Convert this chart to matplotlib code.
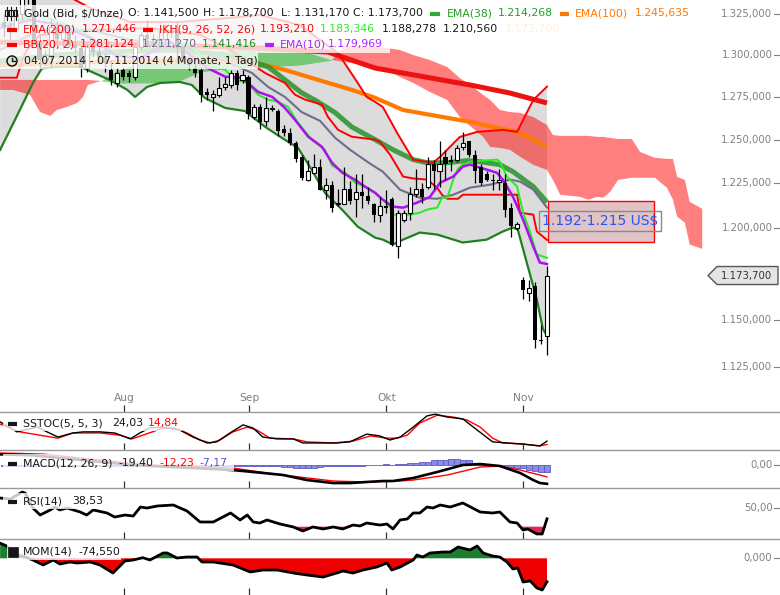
import numpy as np
import matplotlib
matplotlib.use("Agg")
import matplotlib.pyplot as plt
from matplotlib.patches import Rectangle, Polygon, Circle
from matplotlib.ticker import NullLocator

plt.rcParams['font.family'] = ['DejaVu Sans']

W, H = 780, 595

# ---------------- price data, one candle per trading day (index 0..91) ----------------
opens = [1320, 1317, 1316, 1325, 1338, 1337, 1307, 1297, 1300, 1317,
         1310, 1314, 1306, 1304, 1292, 1305, 1302, 1299, 1291, 1283,
         1291, 1289, 1287, 1305, 1312, 1310, 1309, 1310, 1314, 1314,
         1305, 1297, 1292, 1291, 1278, 1275, 1276, 1281, 1282, 1289,
         1285, 1287, 1263, 1269, 1261, 1268, 1267, 1256, 1254, 1248,
         1240, 1227, 1231, 1234, 1221, 1224, 1213, 1213, 1222, 1216,
         1220, 1218, 1213, 1207, 1212, 1216, 1190, 1204.5, 1208, 1219,
         1222, 1223, 1236, 1232, 1240, 1238.5, 1238.5, 1246, 1249, 1241,
         1234, 1230, 1227, 1225.5, 1225, 1211, 1200, 1171, 1164, 1168,
         1139, 1141.5]
highs = [1325, 1320, 1327, 1346, 1341, 1339, 1313, 1303, 1322, 1320,
         1317, 1315, 1312, 1306, 1307, 1308, 1305, 1301, 1297, 1292,
         1293, 1291, 1308, 1314, 1321, 1313, 1315, 1318, 1318, 1320,
         1305, 1299, 1295, 1293, 1280, 1279, 1287, 1287, 1291, 1291,
         1291, 1288, 1271, 1271, 1275, 1270, 1268, 1258.5, 1257, 1249,
         1241, 1238, 1242, 1239, 1228, 1226, 1222, 1234, 1226, 1230,
         1230, 1223, 1214, 1217, 1221, 1217, 1210, 1210, 1223, 1233,
         1225, 1240, 1238.5, 1249, 1244, 1241, 1247, 1254.6, 1249.5, 1244,
         1236, 1232, 1230, 1233, 1230, 1214, 1203, 1173, 1171, 1170,
         1147, 1178.7]
lows = [1311, 1310, 1314, 1321, 1331, 1306, 1292, 1294, 1293, 1306,
        1304, 1304, 1302, 1287, 1290, 1299, 1296, 1290, 1282, 1281,
        1285, 1284, 1285, 1303, 1305, 1305, 1305, 1308, 1311, 1295,
        1296, 1291, 1287, 1272, 1273, 1267, 1275, 1279, 1280, 1279,
        1283, 1262, 1262, 1256, 1258, 1267, 1252, 1252, 1247, 1237,
        1227, 1226, 1231, 1221, 1216, 1209, 1212, 1213, 1213, 1206,
        1211, 1213, 1203, 1203, 1208, 1190, 1183, 1203, 1204.5, 1217,
        1214, 1222, 1222, 1223, 1227, 1232, 1237, 1244, 1240, 1225,
        1224, 1226, 1221, 1221, 1206, 1195, 1199, 1161, 1160, 1135,
        1137, 1131.17]
closes = [1317, 1316, 1325, 1338, 1337, 1307, 1297, 1300, 1317, 1310,
          1314, 1306, 1304, 1292, 1305, 1302, 1299, 1295, 1285, 1289,
          1287, 1287, 1305, 1312, 1310, 1309, 1310, 1314, 1314.5, 1305,
          1298, 1294, 1289, 1276, 1276, 1277, 1280, 1282.5, 1289, 1282,
          1288, 1265, 1269, 1260, 1268.5, 1268.5, 1255, 1254, 1248, 1239,
          1228, 1232, 1234, 1221, 1224, 1211, 1214, 1222, 1215, 1220,
          1218, 1215, 1207, 1212, 1211, 1190.5, 1208, 1208, 1219, 1222,
          1217, 1236, 1232, 1236, 1236, 1237, 1245, 1248, 1241, 1232,
          1225, 1227, 1226, 1227, 1210, 1201, 1202, 1166, 1167, 1139,
          1138.5, 1173.7]

# ---------------- overlays on the price panel ----------------
bb_up_x = [-0.6, 4.4, 9.4, 14.5, 21.2, 29.5, 37.9, 42.9, 49.6, 56.0, 59.3, 60.8, 62.2,
           63.5, 65.9, 68.6, 71.9, 73.1, 76.4, 79.3, 83.6, 86.0, 87.0, 88.7, 91]
bb_up = [1361.7, 1352.3, 1338.6, 1328.7, 1320.1, 1320.1, 1322.6, 1324.4, 1318.2, 1301.2,
         1283.3, 1275.0, 1272.1, 1269.1, 1253.9, 1238.4, 1236.7, 1240.1, 1251.6, 1254.5,
         1255.7, 1254.5, 1261.5, 1273.2, 1281.124]
bb_mid_x = [-0.6, 6.1, 14.5, 21.2, 29.5, 35.9, 41.6, 44.3, 47.1, 49.9, 53.0, 55.5, 58.0,
            61.4, 63.5, 66.4, 69.7, 72.6, 75.3, 78.1, 81.5, 84.8, 86.5, 88.7, 91]
bb_mid = [1303.1, 1315.2, 1315.2, 1309.1, 1306.1, 1298.2, 1289.2, 1280.9, 1275.0, 1266.1,
          1260.9, 1251.1, 1244.2, 1236.1, 1231.6, 1221.3, 1216.8, 1216.2, 1218.5, 1222.5,
          1224.2, 1227.1, 1225.9, 1221.4, 1211.27]
bb_low_x = [-0.6, 2.7, 4.9, 6.4, 9.4, 12.8, 17.8, 20.7, 22.0, 24.0, 26.2, 29.5, 31.5, 33.7,
            37.1, 40.4, 43.8, 47.1, 49.3, 51.6, 53.8, 56.7, 59.3, 62.2, 63.5, 65.2, 66.9,
            69.7, 72.6, 76.9, 80.9, 83.6, 85.3, 86.1, 87.6, 89.3, 90.3, 91]
bb_low = [1244.1, 1267.3, 1283.3, 1292.0, 1293.0, 1293.0, 1285.0, 1279.2, 1275.0, 1280.9,
          1283.3, 1283.9, 1282.1, 1274.4, 1268.5, 1266.7, 1257.4, 1249.9, 1245.2, 1232.6,
          1219.6, 1210.0, 1200.6, 1194.5, 1193.4, 1190.7, 1193.4, 1197.3, 1196.2, 1191.8,
          1193.4, 1197.9, 1200.1, 1199.0, 1180.9, 1160.9, 1145.1, 1141.416]

ema10_x = [-0.6, 4.4, 9.4, 14.5, 18.6, 22.8, 27.9, 31.2, 34.1, 37.1, 39.9, 40.9, 42.6, 45.0,
           47.1, 48.8, 51.0, 53.3, 55.0, 56.7, 58.8, 60.5, 62.2, 63.5, 65.2, 66.9, 69.2,
           71.4, 73.1, 75.3, 76.9, 78.1, 79.8, 82.6, 83.6, 85.3, 87.0, 88.7, 89.8, 91]
ema10 = [1316.4, 1321.3, 1318.3, 1310.3, 1300.1, 1298.0, 1308.0, 1300.1, 1292.3, 1287.0,
         1286.4, 1283.3, 1278.0, 1275.0, 1268.5, 1261.5, 1251.7, 1245.9, 1236.7, 1231.0,
         1227.1, 1223.1, 1219.6, 1215.7, 1211.8, 1211.2, 1214.0, 1217.3, 1225.3, 1228.8,
         1234.5, 1235.6, 1233.9, 1231.0, 1227.1, 1217.4, 1204.5, 1189.6, 1180.8, 1179.969]

tenkan_x = [-0.6, 6.1, 12.8, 19.5, 26.2, 31.2, 34.9, 37.1, 38.7, 40.9, 42.6, 44.3, 45.9,
            47.6, 49.3, 51.6, 53.8, 55.0, 57.2, 58.8, 60.5, 62.2, 63.5, 64.7, 65.2, 68.1,
            69.7, 70.9, 72.6, 73.4, 74.3, 75.3, 76.1, 76.9, 78.1, 82.6, 83.1, 84.3, 86.0,
            87.0, 88.2, 89.3, 91]
tenkan = [1318.3, 1324.4, 1315.2, 1300.1, 1306.2, 1306.2, 1292.9, 1291.1, 1285.2, 1283.3,
          1276.3, 1273.4, 1272.2, 1269.2, 1259.9, 1250.0, 1244.2, 1235.0, 1231.0, 1225.4,
          1223.1, 1219.6, 1215.7, 1211.8, 1207.3, 1207.3, 1208.4, 1210.1, 1211.2, 1216.8,
          1216.8, 1227.1, 1233.3, 1235.6, 1237.3, 1238.5, 1237.3, 1228.7, 1223.1, 1208.4,
          1197.3, 1185.2, 1183.346]

kijun_x = [-0.6, 2.2, 3.1, 3.9, 6.1, 16.1, 24.5, 32.9, 37.9, 43.8, 47.1, 48.8, 50.5, 53.3,
           54.3, 56.0, 58.3, 62.2, 63.0, 64.7, 66.9, 68.6, 70.9, 72.6, 73.4, 74.3, 76.1,
           76.9, 86.0, 86.5, 88.7, 89.3, 91]
kijun = [1286.4, 1286.4, 1297.0, 1303.1, 1312.2, 1315.2, 1316.4, 1312.2, 1303.1, 1289.2,
         1283.3, 1276.3, 1273.4, 1270.5, 1263.3, 1255.7, 1251.7, 1250.0, 1248.8, 1241.4,
         1228.8, 1227.7, 1227.1, 1222.5, 1218.5, 1216.2, 1216.2, 1218.5, 1218.5, 1208.4,
         1207.3, 1197.9, 1193.21]

ema38_x = [-0.6, 9.4, 19.5, 27.9, 34.6, 39.6, 44.3, 47.1, 49.9, 52.6, 55.5, 58.3, 62.2,
           65.2, 68.6, 70.9, 74.3, 77.6, 79.8, 83.1, 85.3, 88.7, 91]
ema38 = [1296.4, 1300.1, 1302.0, 1303.1, 1301.3, 1298.2, 1292.9, 1285.2, 1277.5, 1272.2,
         1265.8, 1257.4, 1250.0, 1244.2, 1238.5, 1236.7, 1236.7, 1237.9, 1237.3, 1235.6,
         1231.6, 1223.1, 1214.268]

ema100_x = [-0.6, 16.1, 32.9, 41.6, 47.1, 52.6, 58.3, 62.2, 66.9, 74.3, 78.1, 81.9, 86.0,
            88.7, 91]
ema100 = [1294.0, 1295.8, 1297.0, 1295.8, 1291.1, 1285.2, 1279.2, 1274.5, 1267.3, 1262.7,
          1260.4, 1257.4, 1254.5, 1250.0, 1245.635]

ema200_x = [-0.6, 24.5, 42.9, 54.3, 62.2, 69.7, 78.1, 84.8, 91]
ema200 = [1307.8, 1306.2, 1304.3, 1301.8, 1292.2, 1287.4, 1282.1, 1277.3, 1271.446]

# Ichimoku cloud (senkou spans, shifted 26 days ahead)
cloud_x = [-0.6, 1.6, 4.4, 6.1, 7.8, 8.9, 10.6, 12.3, 13.3, 14.1,
           16.3, 19.1, 24.5, 29.0, 32.9, 37.9, 43.3, 49.6, 55.0, 57.2,
           63.0, 66.4, 68.6, 71.4, 74.3, 76.4, 78.1, 80.3, 81.5, 83.1,
           84.8, 86.5, 88.7, 91.0, 92.0, 93.2, 96.5, 97.9, 99.4, 100.4,
           101.6, 102.9, 105.2, 106.6, 109.1, 111.1, 112.1, 112.8, 114.1, 114.9,
           117.0]
senkou_a = [1279.1, 1279.1, 1276.2, 1266.1, 1263.8, 1267.3, 1269.1, 1271.4, 1275.0, 1282.1,
            1284.5, 1291.0, 1297.0, 1298.8, 1301.8, 1303.0, 1304.3, 1303.0, 1297.0, 1295.8,
            1292.8, 1286.8, 1283.3, 1277.9, 1273.2, 1263.2, 1258.0, 1251.6, 1245.8, 1245.2,
            1244.1, 1240.1, 1235.5, 1232.6, 1226.9, 1218.5, 1217.3, 1215.7, 1217.3, 1216.8,
            1220.2, 1226.9, 1228.1, 1228.1, 1228.1, 1222.4, 1215.7, 1206.2, 1202.8, 1190.7,
            1188.278]
senkou_b = [1285.1, 1285.1, 1285.1, 1285.1, 1285.1, 1285.1, 1285.1, 1285.1, 1285.1, 1285.1,
            1284.5, 1283.3, 1283.3, 1283.9, 1289.8, 1292.2, 1292.8, 1294.0, 1297.0, 1305.5,
            1304.9, 1303.0, 1300.0, 1297.0, 1292.8, 1286.2, 1282.1, 1276.2, 1273.2, 1267.3,
            1266.1, 1265.6, 1263.2, 1258.5, 1252.7, 1252.2, 1252.2, 1252.2, 1251.6, 1251.6,
            1251.0, 1250.4, 1250.4, 1242.9, 1239.5, 1238.9, 1238.9, 1228.6, 1226.9, 1214.5,
            1210.56]

# ---------------- lower indicator panels ----------------
sto_k_x = [-0.6, 2.2, 5.6, 6.6, 9.1, 11.6, 13.3, 16.1, 18.6, 21.2, 22.8, 24.5, 26.5, 29.5,
           31.7, 34.1, 35.7, 37.9, 40.1, 41.8, 43.4, 45.8, 48.5, 50.1, 53.0, 55.8, 58.0,
           60.8, 63.0, 64.7, 66.4, 68.6, 70.9, 72.3, 74.3, 76.9, 79.3, 81.9, 84.3, 87.0,
           89.8, 91]
sto_k = [76, 49, 62, 54, 35, 46, 49, 49, 46, 30, 46, 60, 62, 54, 35, 19, 22, 46, 68, 59,
         35, 30, 30, 19, 19, 19, 22, 43, 38, 27, 35, 62, 92, 97, 89, 84, 54, 22, 19, 16,
         11, 24.03]
sto_d_x = [-0.6, 2.7, 9.1, 11.6, 16.1, 19.5, 21.5, 23.3, 26.5, 28.5, 30.7, 32.9, 34.6, 36.2,
           38.4, 40.8, 42.4, 44.6, 48.5, 50.8, 55.2, 58.5, 61.4, 64.2, 65.9, 67.6, 69.7,
           72.6, 75.3, 77.6, 79.8, 81.9, 83.6, 87.0, 89.8, 91]
sto_d = [70, 49, 32, 46, 46, 40, 30, 40, 58, 60, 46, 27, 19, 27, 49, 62, 54, 32, 30, 22,
         19, 24, 38, 32, 32, 40, 73, 94, 89, 81, 62, 32, 19, 16, 11, 14.84]

macd_x = [-0.6, 4.9, 10.0, 15.0, 21.7, 28.0, 35.1, 38.4, 41.8, 46.8, 50.8, 55.2, 58.0, 60.8,
          63.5, 65.2, 68.6, 72.6, 76.9, 79.8, 83.1, 86.5, 88.7, 89.8, 91]
macd = [11.0, 10.0, 7.0, 4.0, 0.0, -2.0, -4.1, -5.2, -7.2, -10.3, -15.5, -18.6, -18.6, -17.5,
        -16.5, -16.5, -13.4, -7.2, 0.0, 1.0, -1.0, -8.2, -15.5, -18.5, -19.40]
signal_x = [-0.6, 6.6, 16.1, 24.5, 38.4, 44.1, 49.6, 55.2, 60.8, 66.4, 68.6, 74.3, 79.8,
            83.1, 86.5, 89.8, 91]
signal = [12.4, 11.3, 5.2, 0.0, -3.1, -8.2, -12.4, -16.5, -17.5, -16.5, -15.5, -10.3, -2.1,
          -1.0, -5.2, -10.3, -12.23]
macd_hist = [-1.2, -1.2, -1.0, -1.0, -1.0, -0.8, -0.8, -0.8, -0.6, -0.6,
             -0.6, -0.6, -0.8, -1.0, -1.2, -1.2, -1.2, -1.2, -1.2, -1.0,
             -1.0, -1.0, -1.0, -1.0, -1.0, -1.2, -1.2, -1.2, -1.2, -1.2,
             -1.2, -1.2, -1.0, -1.0, -1.0, -1.0, -1.0, -1.0, -1.0, -1.2,
             -1.5, -1.5, -1.5, -1.5, -1.5, -1.5, -1.5, -1.8, -2.0, -3.0,
             -3.2, -3.2, -3.0, -2.0, -1.5, -1.2, -1.2, -1.0, -1.0, -0.8,
             -0.6, -0.4, -0.2, 0.4, 1.0, 0.5, 1.0, 1.5, 2.3, 2.5,
             3.3, 3.5, 5.0, 5.0, 5.3, 6.0, 6.2, 5.5, 5.0, 2.5,
             2.3, 1.5, 0.2, -0.5, -2.3, -2.5, -3.0, -3.5, -5.5, -6.0,
             -7.0, -7.17]

rsi_x = [-0.6, 1.1, 3.1, 3.6, 4.9, 6.1, 7.8, 8.6, 9.4, 10.6, 12.8, 13.9, 15.0, 17.3, 18.6,
         20.3, 21.7, 22.9, 24.0, 25.7, 28.4, 30.7, 32.9, 35.1, 38.0, 39.6, 40.8, 41.8, 42.9,
         44.1, 46.3, 48.5, 50.1, 51.8, 53.5, 55.2, 56.8, 58.5, 59.7, 60.8, 63.0, 64.2, 65.2,
         66.4, 67.6, 68.6, 69.7, 70.9, 71.9, 73.1, 74.8, 76.9, 79.8, 81.9, 83.1, 84.8, 86.0,
         87.0, 87.8, 89.3, 90.2, 91]
rsi = [61.2, 60.1, 67.7, 66.6, 50.3, 42.7, 48.2, 51.4, 48.2, 50.3, 46.0, 42.7, 48.2, 44.9,
       40.5, 42.7, 41.6, 51.4, 50.3, 52.5, 53.6, 47.1, 35.1, 35.1, 44.9, 37.3, 42.7, 35.1,
       34.0, 37.3, 32.9, 29.7, 25.3, 29.7, 27.5, 29.7, 27.5, 31.8, 30.8, 34.0, 31.8, 32.9,
       27.5, 37.3, 38.4, 44.9, 44.9, 51.4, 50.3, 53.6, 51.4, 55.8, 46.0, 44.9, 46.0, 35.1,
       34.0, 26.4, 27.5, 22.1, 22.1, 38.53]

mom_x = [-0.6, 0.4, 1.4, 2.5, 3.5, 4.9, 6.6, 8.3, 9.4, 11.1, 12.3, 14.5, 16.1, 18.3, 20.3,
         21.7, 23.3, 24.5, 26.7, 27.4, 29.0, 30.7, 32.4, 33.2, 35.1, 38.4, 41.3, 43.4, 45.8,
         48.5, 50.8, 53.5, 55.8, 56.8, 58.5, 60.2, 62.5, 64.2, 65.0, 66.4, 68.6, 69.2, 70.2,
         71.4, 73.6, 74.8, 76.1, 78.1, 79.3, 80.3, 81.9, 83.1, 84.3, 85.3, 86.1, 87.0, 88.2,
         89.3, 90.2, 91]
mom = [48, 40, 25, 10, 5, -5.4, -21.3, -5.4, -18.2, -11.8, -15.0, -11.8, -21.3, -46.8, -8.6,
       -5.4, 2.0, -5.4, 16.9, 16.9, 1.0, 4.1, 4.1, -11.8, -11.8, -21.3, -43.6, -37.3, -37.3,
       -46.8, -53.2, -59.6, -46.8, -40.4, -46.8, -37.3, -27.7, -15.0, -37.3, -27.7, -5.4,
       10.5, 4.1, 16.9, 20.1, 20.1, 36.0, 26.4, 39.2, 16.9, 7.3, 4.1, -11.8, -34.1, -30.9,
       -75.5, -72.3, -94.6, -101.0, -74.55]

month_pos = [20.15, 41.14, 64.1, 87.0]
month_labels = ['Aug', 'Sep', 'Okt', 'Nov']
price_ticks = [1325, 1300, 1275, 1250, 1225, 1200, 1150, 1125]

XMIN, XMAX = -0.62, 130.03
GREY = '#808080'


def de_num(v, nd):
    s = f"{v:,.{nd}f}"
    return s.replace(',', '#').replace('.', ',').replace('#', '.')


fig = plt.figure(figsize=(W / 100, H / 100), dpi=100)


def panel(top, bottom, sep=True):
    ax = fig.add_axes([0, (H - bottom) / H, 1, (bottom - top) / H])
    for s in ax.spines.values():
        s.set_visible(False)
    if sep:
        ax.spines['top'].set_visible(True)
        ax.spines['top'].set_color('#999999')
        ax.spines['top'].set_linewidth(1.0)
    ax.patch.set_alpha(0)
    return ax


def finish(ax, ylim):
    ax.set_xlim(XMIN, XMAX)
    ax.set_ylim(*ylim)
    ax.set_xticks(month_pos)
    ax.tick_params(axis='x', direction='in', length=5, width=0.9, color='#333333',
                   labelbottom=False)
    ax.yaxis.set_major_locator(NullLocator())
    ax.yaxis.set_minor_locator(NullLocator())
    ax.set_autoscale_on(False)


def right_label(ax, v, txt):
    tr = ax.get_yaxis_transform()
    ax.text(772.5 / W, v, txt, transform=tr, ha='right', va='center', fontsize=7.3, color=GREY)
    ax.plot([773.5 / W, 778.5 / W], [v, v], transform=tr, color=GREY, lw=0.8)


# ================= main price panel =================
ax = panel(0, 411.7, sep=False)
ax.set_yscale('log')
finish(ax, (1101.9, 1333.6))

# Bollinger band area
ax.fill(bb_up_x + bb_low_x[::-1], bb_up + bb_low[::-1], color='#dcdcdc', lw=0, zorder=1)

# cloud
ca = np.array(senkou_a)
cb = np.array(senkou_b)
ax.fill_between(cloud_x, ca, cb, where=ca >= cb, interpolate=True, color='#12b312',
                alpha=0.5, lw=0, zorder=2)
ax.fill_between(cloud_x, ca, cb, where=ca < cb, interpolate=True, color='#ff0000',
                alpha=0.5, lw=0, zorder=2)

ax.plot(ema200_x, ema200, color='#ee1111', lw=3.6, zorder=3, solid_capstyle='butt')
ax.plot(ema100_x, ema100, color='#ff7a00', lw=3.0, zorder=3, solid_capstyle='butt')
ax.plot(ema38_x, ema38, color='#2e962e', lw=3.6, alpha=0.88, zorder=3, solid_capstyle='butt')
ax.plot(bb_up_x, bb_up, color='#ff0000', lw=1.4, zorder=3)
ax.plot(kijun_x, kijun, color='#ff0000', lw=1.4, zorder=3)
ax.plot(bb_mid_x, bb_mid, color='#6e6e8c', lw=1.5, zorder=3)
ax.plot(bb_low_x, bb_low, color='#1e801e', lw=1.6, zorder=3)
ax.plot(tenkan_x, tenkan, color='#22ee22', lw=1.4, zorder=3)
ax.plot(ema10_x, ema10, color='#aa11ee', lw=1.8, zorder=3)

# candles
idx = np.arange(len(closes))
o = np.array(opens, float)
c = np.array(closes, float)
hi = np.array(highs, float)
lo = np.array(lows, float)
up = c >= o
ax.vlines(idx, lo, hi, color='black', lw=0.9, zorder=4)
b_lo = np.minimum(o, c)
b_h = np.maximum(np.maximum(o, c) - b_lo, 0.6)
ax.bar(idx[up], b_h[up], bottom=b_lo[up], width=0.68, facecolor='white',
       edgecolor='black', lw=0.8, zorder=5)
ax.bar(idx[~up], b_h[~up], bottom=b_lo[~up], width=0.68, color='black', lw=0, zorder=5)

# target zone box
ax.add_patch(Rectangle((91.1, 1192), 108.9 - 91.1, 1215 - 1192, facecolor='#dfc3c6',
                       edgecolor='#ff0000', lw=1.0, zorder=6))
ax.text(99.9, 1203.6, '1.192-1.215 US$', ha='center', va='center', fontsize=10,
        color='#2a55ee', zorder=7,
        bbox=dict(boxstyle='square,pad=0.2', fc='none', ec='#888888', lw=1.0))

for p in price_ticks:
    right_label(ax, p, de_num(p, 3))
for pos, lbl in zip(month_pos, month_labels):
    ax.text(pos, 13.7 / 411.7, lbl, transform=ax.get_xaxis_transform(), ha='center',
            va='center', fontsize=7.7, color=GREY)
ax_main = ax

# ================= SSTOC =================
ax = panel(411.7, 450)
ax.plot(sto_d_x, sto_d, color='#ff0000', lw=1.0)
ax.plot(sto_k_x, sto_k, color='black', lw=1.0)
finish(ax, (0, 103.5))

# ================= MACD =================
ax = panel(450, 488)
ax.bar(idx, macd_hist, width=1.0, facecolor='#8c8ce6', edgecolor='#5a5ac8', lw=0.6, zorder=1)
ax.plot(signal_x, signal, color='#ff0000', lw=1.0, zorder=2)
ax.plot(macd_x, macd, color='black', lw=1.9, zorder=3)
right_label(ax, 0, '0,00')
finish(ax, (-23.7, 15.5))

# ================= RSI =================
ax = panel(488, 539)
r = np.array(rsi)
ax.fill_between(rsi_x, r, 30, where=r < 30, interpolate=True, color='#dc2a55', lw=0, zorder=1)
ax.plot(rsi_x, rsi, color='black', lw=2.0, zorder=2)
right_label(ax, 50, '50,00')
finish(ax, (16.6, 72.1))

# ================= MOM =================
ax = panel(539, 595)
m = np.array(mom)
ax.fill_between(mom_x, m, 0, where=m >= 0, interpolate=True, color='#1a7f2e', lw=0, zorder=1)
ax.fill_between(mom_x, m, 0, where=m < 0, interpolate=True, color='#ee0000', lw=0, zorder=1)
ax.plot(mom_x, mom, color='black', lw=2.0, zorder=2)
right_label(ax, 0, '0,000')
finish(ax, (-116.9, 61.5))

# ================= legends / overlay (pixel coordinates) =================
ov = fig.add_axes([0, 0, 1, 1])
ov.set_xlim(0, W)
ov.set_ylim(H, 0)
ov.axis('off')

FS = 7.8
BLACK = '#161616'


def box(x0, y0, x1, y1):
    ov.add_patch(Rectangle((x0, y0), x1 - x0, y1 - y0, facecolor='white', alpha=0.78, lw=0))


def txt(x, y, s, col=BLACK):
    ov.text(x, y, s, fontsize=FS, color=col, ha='left', va='center')


def dash(x0, x1, y, col, lw=3.0):
    ov.plot([x0, x1], [y, y], color=col, lw=lw, solid_capstyle='butt')


box(0, 5, 692, 21)
box(0, 21, 562, 37)
box(0, 37, 390, 53)
box(0, 53, 258, 69)

# row 1
for xs in (6.5, 11, 15.5):
    ov.plot([xs, xs], [7, 20], color=BLACK, lw=0.8)
    ov.add_patch(Rectangle((xs - 1.6, 10), 3.2, 6, facecolor='white', edgecolor=BLACK, lw=0.8))
txt(24, 13, 'Gold (Bid, $/Unze)')
txt(128, 13, 'O: 1.141,500')
txt(203, 13, 'H: 1.178,700')
txt(281, 13, 'L: 1.131,170')
txt(353, 13, 'C: 1.173,700')
dash(430, 440, 13.5, '#33aa33')
txt(447, 13, 'EMA(38)', '#22a022')
txt(498, 13, '1.214,268', '#22a022')
dash(560, 569, 13.5, '#ff7700')
txt(575, 13, 'EMA(100)', '#ff7700')
txt(635, 13, '1.245,635', '#ff7700')

# row 2
dash(7, 17, 29.5, '#ff0000')
txt(23, 29, 'EMA(200)', '#ff0000')
txt(82, 29, '1.271,446', '#ff0000')
dash(143, 153, 29.5, '#ff0000')
txt(159, 29, 'IKH(9, 26, 52, 26)', '#ff0000')
txt(260, 29, '1.193,210', '#ff0000')
txt(320, 29, '1.183,346', '#22ee22')
txt(382, 29, '1.188,278')
txt(443, 29, '1.210,560')
txt(505, 29, '1.173,700', '#fff0d8')

# row 3
dash(7, 17, 45, '#ff0000')
txt(23, 44.5, 'BB(20, 2)', '#ff0000')
txt(80, 44.5, '1.281,124', '#ff0000')
txt(142, 44.5, '1.211,270', '#6a6a90')
txt(202, 44.5, '1.141,416', '#1f8a1f')
dash(265, 274, 45, '#b022ff')
txt(280, 44.5, 'EMA(10)', '#b022ff')
txt(328, 44.5, '1.179,969', '#b022ff')

# row 4
ov.add_patch(Circle((12, 61), 5, fill=False, edgecolor=BLACK, lw=1.1))
ov.plot([12, 12, 15], [57.5, 61, 61], color=BLACK, lw=1.0)
txt(24, 61, '04.07.2014 - 07.11.2014 (4 Monate, 1 Tag)')

# indicator labels
box(3, 415, 182, 431)
dash(8, 17, 423.5, BLACK)
txt(23, 423, 'SSTOC(5, 5, 3)')
txt(112, 423, '24,03')
txt(148, 423, '14,84', '#ff0000')

box(3, 454, 234, 471)
dash(8, 17, 463.5, BLACK)
txt(23, 463, 'MACD(12, 26, 9)')
txt(118, 463, '-19,40')
txt(159, 463, '-12,23', '#ff0000')
txt(199, 463, '-7,17', '#5555cc')

box(3, 493, 106, 509)
dash(8, 17, 501.5, BLACK)
txt(23, 501, 'RSI(14)')
txt(72, 501, '38,53')

box(7, 544, 121, 560)
ov.add_patch(Rectangle((8, 547), 10, 10, facecolor=BLACK, edgecolor=BLACK, lw=0.5))
txt(23, 552, 'MOM(14)')
txt(78, 552, '-74,550')

# last price tag on the right axis
y_tag = H - ax_main.transData.transform((0, closes[-1]))[1]
ov.add_patch(Polygon([(708, y_tag), (717, y_tag - 9), (778, y_tag - 9), (778, y_tag + 9),
                      (717, y_tag + 9)], closed=True, facecolor='#e4e4e4',
                     edgecolor='#555555', lw=1.0))
ov.text(772.5, y_tag, de_num(closes[-1], 3), fontsize=7.3, color='#333333', ha='right',
        va='center')

fig.savefig('out.png', dpi=100)
